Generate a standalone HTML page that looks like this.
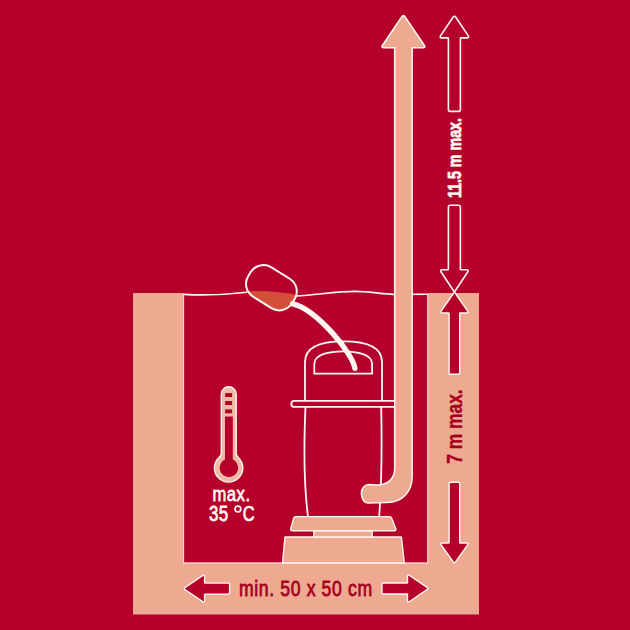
<!DOCTYPE html>
<html><head><meta charset="utf-8">
<style>
html,body{margin:0;padding:0;background:#B5002C;}
body{width:630px;height:630px;overflow:hidden;}
svg{display:block;}
text{font-family:"Liberation Sans",sans-serif;}
</style></head>
<body>
<svg width="630" height="630" viewBox="0 0 630 630">
<rect x="0" y="0" width="630" height="630" fill="#B5002C"/>
<path d="M133,293 L183.5,293 L183.5,563 L427.8,563 L427.8,293 L479,293 L479,614.4 L133,614.4 Z" fill="#EEAA90"/>
<path d="M183.6,293.5 L183.6,562.9 L427.6,562.9 L427.6,294" fill="none" stroke="#FFF6F1" stroke-width="1.1" opacity="0.8"/>
<path d="M183.6,294.4 C205,295.6 228,294.4 247,292.2" fill="none" stroke="#FFF6F1" stroke-width="1.6"/>
<path d="M296,296 C318,294.6 338,291.4 355,291.4 C370,291.4 382,294.3 397,294.4 L427.8,294.3" fill="none" stroke="#FFF6F1" stroke-width="1.6"/>
<clipPath id="fclip"><rect x="-25.8" y="-17.3" width="51.6" height="34.6" rx="15" ry="15" transform="translate(271.4,287.7) rotate(32)"/></clipPath>
<path clip-path="url(#fclip)" d="M240,291.6 C262,290.2 282,291.8 300,295.6 L300,320 L240,320 Z" fill="#D34E38"/>
<rect x="-25.8" y="-17.3" width="51.6" height="34.6" rx="15" ry="15" transform="translate(271.4,287.7) rotate(32)" fill="none" stroke="#FFF6F1" stroke-width="2"/>
<path d="M292.6,303.8 C316.6,309.2 353.2,353.9 354.8,368.3" fill="none" stroke="#FFF6F1" stroke-width="5.4" stroke-linecap="round"/>
<g fill="none" stroke="#FFF6F1" stroke-width="1.8">
<path d="M305,400.5 L305,362 C305,345 325,341.4 343.5,341.4 C362,341.4 382,345 382,362 L382,400.5"/>
<path d="M314.3,373.6 L314.3,364 C314.3,354 330,351.4 343.2,351.4 C356,351.4 372.1,354 372.1,364 L372.1,373.6 Z"/>
<path d="M305.5,406.5 C303.8,445 303.8,485 308,516.5"/>
<path d="M381.2,406.5 C381.9,440 381.9,480 379.2,516.5"/>
<rect x="291.3" y="400.8" width="110" height="6.1" rx="3" ry="3"/>
</g>
<g fill="#EEAA90" stroke="#FFF6F1" stroke-width="1.4" stroke-linejoin="round">
<path d="M282.5,563 L285,537 L401.4,537 L404.3,563 Z"/>
<rect x="313.8" y="530.5" width="58.4" height="6.5"/>
<path d="M293.78,518.04 Q294.20,516.60 295.70,516.60 L389.50,516.60 Q391.00,516.60 391.55,518.00 L395.68,528.47 Q396.60,530.80 394.10,530.80 L292.60,530.80 Q290.10,530.80 290.79,528.40 Z"/>
</g>
<path d="M412.2,47 L412.2,476 C412.2,490 404,502.6 386.4,502.6 L368.6,503 C363.8,503 361.4,498.5 361.4,493.5 C361.4,488.2 364.6,484.6 369.3,484.6 L376.5,485.1 C387,485.1 394.7,479.5 394.7,468 L394.7,47 Z" fill="#EEAA90" stroke="#FFF6F1" stroke-width="1.5"/>
<path d="M401.72,16.89 Q403.40,14.40 405.08,16.89 L424.22,45.21 Q425.90,47.70 422.90,47.70 L383.90,47.70 Q380.90,47.70 382.58,45.21 Z" fill="#EEAA90" stroke="#FFF6F1" stroke-width="1.6"/>
<rect x="395.5" y="46" width="15.9" height="4" fill="#EEAA90"/>
<g fill="none" stroke="#FFF6F1" stroke-width="1.6">
<path d="M453.00,17.27 Q454.40,15.20 455.80,17.27 L468.02,35.41 Q469.70,37.90 466.70,37.90 L461.00,37.90 Q460.40,37.90 460.40,38.50 L460.40,109.40 Q460.40,111.40 458.40,111.40 L450.40,111.40 Q448.40,111.40 448.40,109.40 L448.40,38.50 Q448.40,37.90 447.80,37.90 L442.10,37.90 Q439.10,37.90 440.78,35.41 Z"/>
<path d="M454.40,292.00 L467.54,272.30 Q469.20,269.80 466.20,269.80 L461.00,269.80 Q460.40,269.80 460.40,269.20 L460.40,207.20 Q460.40,205.20 458.40,205.20 L450.40,205.20 Q448.40,205.20 448.40,207.20 L448.40,269.20 Q448.40,269.80 447.80,269.80 L442.60,269.80 Q439.60,269.80 441.26,272.30 Z"/>
</g>
<text transform="translate(461.0,198) rotate(-90) scale(0.8,1)" font-size="17.8" font-weight="bold" fill="#FFF6F1" stroke="#FFF6F1" stroke-width="0.75" stroke-linejoin="round">11.5 m max.</text>
<g fill="#B5002C" stroke="#FFF6F1" stroke-width="1.4">
<path d="M454.40,292.00 L467.48,310.94 Q468.90,313.00 466.40,313.00 L460.30,313.00 Q459.70,313.00 459.70,313.60 L459.70,372.70 Q459.70,374.20 458.20,374.20 L450.60,374.20 Q449.10,374.20 449.10,372.70 L449.10,313.60 Q449.10,313.00 448.50,313.00 L442.40,313.00 Q439.90,313.00 441.32,310.94 Z"/>
<path d="M453.25,561.96 Q454.40,563.60 455.55,561.96 L467.46,545.04 Q468.90,543.00 466.40,543.00 L460.30,543.00 Q459.70,543.00 459.70,542.40 L459.70,483.70 Q459.70,482.20 458.20,482.20 L450.60,482.20 Q449.10,482.20 449.10,483.70 L449.10,542.40 Q449.10,543.00 448.50,543.00 L442.40,543.00 Q439.90,543.00 441.34,545.04 Z"/>
</g>
<text transform="translate(461.9,463.8) rotate(-90) scale(0.81,1)" font-size="21.5" font-weight="bold" fill="#A60020" stroke="#A60020" stroke-width="0.35" stroke-linejoin="round">7 m max.</text>
<g fill="#B5002C" stroke="#FFF6F1" stroke-width="1.4">
<path d="M185.25,589.73 Q183.60,588.60 185.25,587.47 L202.54,575.61 Q204.60,574.20 204.60,576.70 L204.60,582.50 Q204.60,583.10 205.20,583.10 L228.10,583.10 Q229.60,583.10 229.60,584.60 L229.60,592.60 Q229.60,594.10 228.10,594.10 L205.20,594.10 Q204.60,594.10 204.60,594.70 L204.60,600.50 Q204.60,603.00 202.54,601.59 Z"/>
<path d="M427.05,589.62 Q428.70,588.50 427.05,587.38 L409.57,575.50 Q407.50,574.10 407.50,576.60 L407.50,582.40 Q407.50,583.00 406.90,583.00 L383.40,583.00 Q381.90,583.00 381.90,584.50 L381.90,592.50 Q381.90,594.00 383.40,594.00 L406.90,594.00 Q407.50,594.00 407.50,594.60 L407.50,600.40 Q407.50,602.90 409.57,601.50 Z"/>
</g>
<text transform="translate(239.0,595.6) scale(0.79,1)" font-size="22.3" font-weight="normal" fill="#A60020" stroke="#A60020" stroke-width="0.8" stroke-linejoin="round" letter-spacing="0.8">min. 50 x 50 cm</text>
<path d="M221.30,453.12 L221.30,394.15 A7.45,7.45 0 0 1 236.20,394.15 L236.20,453.31 Q236.20,455.91 238.17,457.41 A14.20,14.20 0 1 1 219.30,457.17 Q221.30,455.72 221.30,453.12 Z" fill="#F0BAA4" stroke="#FFF6F1" stroke-width="1.4"/>
<path d="M225,416.5 L232.8,416.5 L232.8,459.5 A9.2,9.2 0 1 1 225,459.5 Z" fill="#B5002C"/>
<rect x="225.1" y="393.1" width="7.0" height="3.9" fill="#B5002C"/>
<rect x="225.1" y="401" width="7.0" height="4" fill="#B5002C"/>
<rect x="225.1" y="409.4" width="7.0" height="3.9" fill="#B5002C"/>
<text transform="translate(212.4,501.2) scale(0.8,1)" font-size="20.8" font-weight="normal" fill="#FFF6F1" stroke="#FFF6F1" stroke-width="0.75" stroke-linejoin="round" letter-spacing="0.65">max.</text>
<text transform="translate(208.9,520.9) scale(0.76,1)" font-size="22.3" font-weight="normal" fill="#FFF6F1" stroke="#FFF6F1" stroke-width="0.75" stroke-linejoin="round" letter-spacing="0.5">35</text>
<circle cx="237.9" cy="509.1" r="2.9" fill="none" stroke="#FFF6F1" stroke-width="1.7"/>
<text transform="translate(242.7,520.9) scale(0.74,1)" font-size="22.3" font-weight="normal" fill="#FFF6F1" stroke="#FFF6F1" stroke-width="0.75" stroke-linejoin="round">C</text>
</svg>
</body></html>
